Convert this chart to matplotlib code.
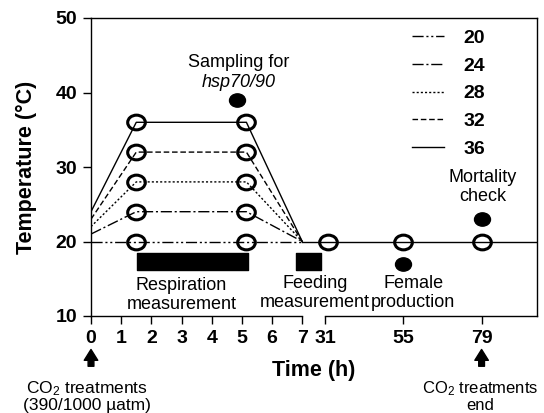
import numpy as np
import matplotlib
matplotlib.use('Agg')
import matplotlib.pyplot as plt
from matplotlib.path import Path
from matplotlib.transforms import Affine2D

plt.rcParams['font.family'] = ['Liberation Sans', 'DejaVu Sans']
plt.rcParams['mathtext.fontset'] = 'custom'
plt.rcParams['mathtext.rm'] = 'Liberation Sans'
plt.rcParams['mathtext.it'] = 'Liberation Sans:italic'

# data
temps = [20, 24, 28, 32, 36]
start_temps = [20, 21, 22, 23, 24]
ramp_times = [0, 1.5, 5.15, 7]
circle_times = [1.5, 5.15]
later_times = [32, 55, 79]
hold_times = [7, 96]
dot_times = [4.85, 55, 79]
dot_temps = [39, 17, 23]
resp_bar = (1.53, 5.19)
feed_bar = (6.8, 27)
bar_temps = (16.2, 18.5)
xticks = [0, 1, 2, 3, 4, 5, 6, 7, 31, 55, 79]

styles = {20: (0, (8, 2, 1.5, 2, 1.5, 2)),
          24: (0, (8, 2, 1.5, 2)),
          28: (0, (1.5, 1.5)),
          32: (0, (4, 2)),
          36: '-'}

# broken time axis: 0-7 h wide, gap, then 31-96 h compressed
GAP = 0.76
K = 0.108


def fwd(t):
    t = np.asarray(t, dtype=float)
    return np.where(t <= 7, t, np.where(t < 31, 7 + (t - 7) * GAP / 24,
                                         7 + GAP + (t - 31) * K))


def inv(u):
    u = np.asarray(u, dtype=float)
    return np.where(u <= 7, u, np.where(u < 7 + GAP, 7 + (u - 7) * 24 / GAP,
                                         31 + (u - 7 - GAP) / K))


# slightly wide circle like the picture
ellipse = Affine2D().scale(1.2, 1.0).transform_path(Path.unit_circle())

fig = plt.figure(figsize=(5.44, 4.13), dpi=100)
ax = fig.add_axes([91 / 544, 1 - 316 / 413, 446 / 544, 298 / 413])
ax.set_xscale('function', functions=(fwd, inv))

handles = []
for temp, t0 in zip(temps, start_temps):
    h, = ax.plot(ramp_times, [t0, temp, temp, 20], color='k', lw=1,
                 ls=styles[temp], label=str(temp))
    handles.append(h)
ax.plot(hold_times, [20, 20], color='k', lw=1)

for ct in circle_times:
    ax.plot([ct] * len(temps), temps, ls='none', marker=ellipse, ms=12.7,
            mfc='none', mec='k', mew=2.2, zorder=3)
ax.plot(later_times, [20] * len(later_times), ls='none', marker=ellipse,
        ms=12.7, mfc='none', mec='k', mew=2.2, zorder=3)
ax.plot(dot_times, dot_temps, ls='none', marker=ellipse, ms=11.5, color='k')

ax.broken_barh([(resp_bar[0], resp_bar[1] - resp_bar[0])],
               (bar_temps[0], bar_temps[1] - bar_temps[0]), color='k')
ax.broken_barh([(feed_bar[0], feed_bar[1] - feed_bar[0])],
               (bar_temps[0], bar_temps[1] - bar_temps[0]), color='k')

ax.set_xlim(0, 96)
ax.set_ylim(10, 50)
ax.set_xticks(xticks)
ax.set_yticks([10, 20, 30, 40, 50])
ax.tick_params(direction='out', length=6, width=1, labelsize=14, pad=4)
for lab in ax.get_xticklabels() + ax.get_yticklabels():
    lab.set_fontweight('bold')
for s in ax.spines.values():
    s.set_linewidth(1)
ax.spines['bottom'].set_bounds(0, 7)
ax.plot([31, 96], [10, 10], color='k', lw=1, clip_on=False, zorder=5)

ax.set_xlabel('Time (h)', fontsize=15.5, fontweight='bold')
ax.set_ylabel('Temperature (°C)', fontsize=15.5, fontweight='bold')
ax.xaxis.set_label_coords(0.5, -0.148)
ax.yaxis.set_label_coords(-0.12, 0.5)

ax.legend(handles=handles, loc='upper left', bbox_to_anchor=(0.72, 0.962),
          frameon=False, borderpad=0, borderaxespad=0, handlelength=1.65,
          handletextpad=1.0, labelspacing=0.52,
          prop={'size': 14, 'weight': 'bold'})

fs = 13
ax.text(4.9, 44.0, 'Sampling for', ha='center', va='center', fontsize=fs)
ax.text(4.9, 41.4, 'hsp70/90', ha='center', va='center', fontsize=fs,
        style='italic')
ax.text(3.0, 12.8, 'Respiration\nmeasurement', ha='center', va='center',
        fontsize=fs, linespacing=1.1)
ax.text(0.502, 13.1, 'Feeding\nmeasurement', ha='center', va='center',
        fontsize=fs, linespacing=1.1, transform=ax.get_yaxis_transform())
ax.text(58, 13.1, 'Female\nproduction', ha='center', va='center', fontsize=fs,
        linespacing=1.1)
ax.text(79.3, 27.3, 'Mortality\ncheck', ha='center', va='center', fontsize=fs,
        linespacing=1.1)

xt = ax.get_xaxis_transform()
arrow = dict(arrowstyle='simple,head_width=0.75,head_length=0.6,tail_width=0.32',
             color='k', mutation_scale=13)
for t in [0, 79]:
    ax.annotate('', xy=(t, -0.103), xytext=(t, -0.178), xycoords=xt,
                textcoords=xt, arrowprops=arrow, annotation_clip=False)
ax.text(-0.13, -0.27, 'CO$_2$ treatments\n(390/1000 µatm)', ha='center',
        va='center', fontsize=12.5, linespacing=1.0, transform=xt)
ax.text(78.5, -0.27, 'CO$_2$ treatments\nend', ha='center', va='center',
        fontsize=12, linespacing=1.0, transform=xt)

fig.savefig('out.png', dpi=100)
